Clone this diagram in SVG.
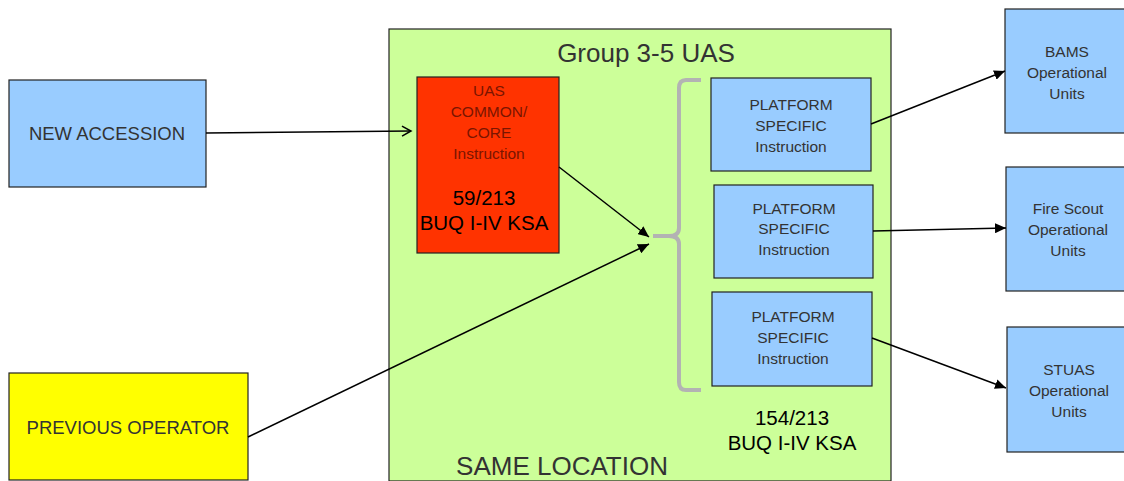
<svg xmlns="http://www.w3.org/2000/svg" width="1124" height="481" viewBox="0 0 1124 481">
<defs>
<marker id="open" markerWidth="12" markerHeight="12" refX="10" refY="6" orient="auto" markerUnits="userSpaceOnUse">
<path d="M1,1 L10,6 L1,11" fill="none" stroke="#000" stroke-width="1.5"/>
</marker>
<marker id="fill" markerWidth="12" markerHeight="10" refX="11" refY="5" orient="auto" markerUnits="userSpaceOnUse">
<path d="M0,0 L11,5 L0,10 Z" fill="#000"/>
</marker>
</defs>
<style>
text{font-family:"Liberation Sans",Arial,sans-serif;text-anchor:middle}
.blue{fill:#99ccff;stroke:#222;stroke-width:1.2}
.t{font-size:15.5px;fill:#333}
.r{font-size:15.5px;fill:#7a1500}
.big{font-size:18.5px;fill:#333}
.k{font-size:20.5px;fill:#000}
.c{stroke:#000;stroke-width:1.5;fill:none}
</style>
<rect width="1124" height="481" fill="#fff"/>
<g id="group">
<rect x="389" y="29" width="502" height="452" fill="#ccff99" stroke="#222" stroke-width="1.2"/>
<text x="646" y="62" font-size="26" fill="#333">Group 3-5 UAS</text>
<text x="562" y="475" font-size="26" fill="#333">SAME LOCATION</text>
<text x="792" y="425" class="k">154/213</text>
<text x="792" y="450" class="k">BUQ I-IV KSA</text>
</g>
<g id="brace">
<path d="M701,80 L686,80 Q679,80 679,88 L679,228 Q679,236 669,236 L653,236 M669,236 Q679,236 679,244 L679,382 Q679,390 686,390 L701,390" fill="none" stroke="#b3b3b3" stroke-width="4"/>
</g>
<g id="new-accession">
<rect x="9" y="80" width="197" height="107" class="blue"/>
<text x="107" y="140" class="big">NEW ACCESSION</text>
</g>
<g id="previous-operator">
<rect x="9" y="373" width="239" height="107" fill="#ffff00" stroke="#222" stroke-width="1.2"/>
<text x="128" y="434" class="big">PREVIOUS OPERATOR</text>
</g>
<g id="common-core">
<rect x="417" y="77" width="142" height="176" fill="#ff3300" stroke="#222" stroke-width="1.2"/>
<text x="489" y="96" class="r">UAS</text>
<text x="489" y="117" class="r">COMMON/</text>
<text x="489" y="138" class="r">CORE</text>
<text x="489" y="159" class="r">Instruction</text>
<text x="484" y="205" class="k">59/213</text>
<text x="484" y="230" class="k">BUQ I-IV KSA</text>
</g>
<g id="platform-1">
<rect x="711" y="78" width="160" height="93" class="blue"/>
<text x="791" y="110" class="t">PLATFORM</text>
<text x="791" y="131" class="t">SPECIFIC</text>
<text x="791" y="152" class="t">Instruction</text>
</g>
<g id="platform-2">
<rect x="714" y="185" width="159" height="93" class="blue"/>
<text x="794" y="214" class="t">PLATFORM</text>
<text x="794" y="234" class="t">SPECIFIC</text>
<text x="794" y="255" class="t">Instruction</text>
</g>
<g id="platform-3">
<rect x="712" y="292" width="160" height="94" class="blue"/>
<text x="793" y="322" class="t">PLATFORM</text>
<text x="793" y="343" class="t">SPECIFIC</text>
<text x="793" y="364" class="t">Instruction</text>
</g>
<g id="bams">
<rect x="1005" y="9" width="125" height="124" class="blue"/>
<text x="1067" y="57" class="t">BAMS</text>
<text x="1067" y="78" class="t">Operational</text>
<text x="1067" y="99" class="t">Units</text>
</g>
<g id="fire-scout">
<rect x="1006" y="167" width="124" height="124" class="blue"/>
<text x="1068" y="214" class="t">Fire Scout</text>
<text x="1068" y="235" class="t">Operational</text>
<text x="1068" y="256" class="t">Units</text>
</g>
<g id="stuas">
<rect x="1007" y="327" width="123" height="125" class="blue"/>
<text x="1069" y="375" class="t">STUAS</text>
<text x="1069" y="396" class="t">Operational</text>
<text x="1069" y="417" class="t">Units</text>
</g>
<g id="connectors">
<line x1="206" y1="133" x2="411" y2="131" class="c" marker-end="url(#open)"/>
<line x1="559" y1="167" x2="649" y2="237" class="c" marker-end="url(#fill)"/>
<line x1="248" y1="437" x2="649" y2="244" class="c" marker-end="url(#fill)"/>
<line x1="871" y1="124" x2="1005" y2="71" class="c" marker-end="url(#fill)"/>
<line x1="873" y1="231" x2="1006" y2="228" class="c" marker-end="url(#fill)"/>
<line x1="872" y1="338" x2="1006" y2="388" class="c" marker-end="url(#fill)"/>
</g>
</svg>
